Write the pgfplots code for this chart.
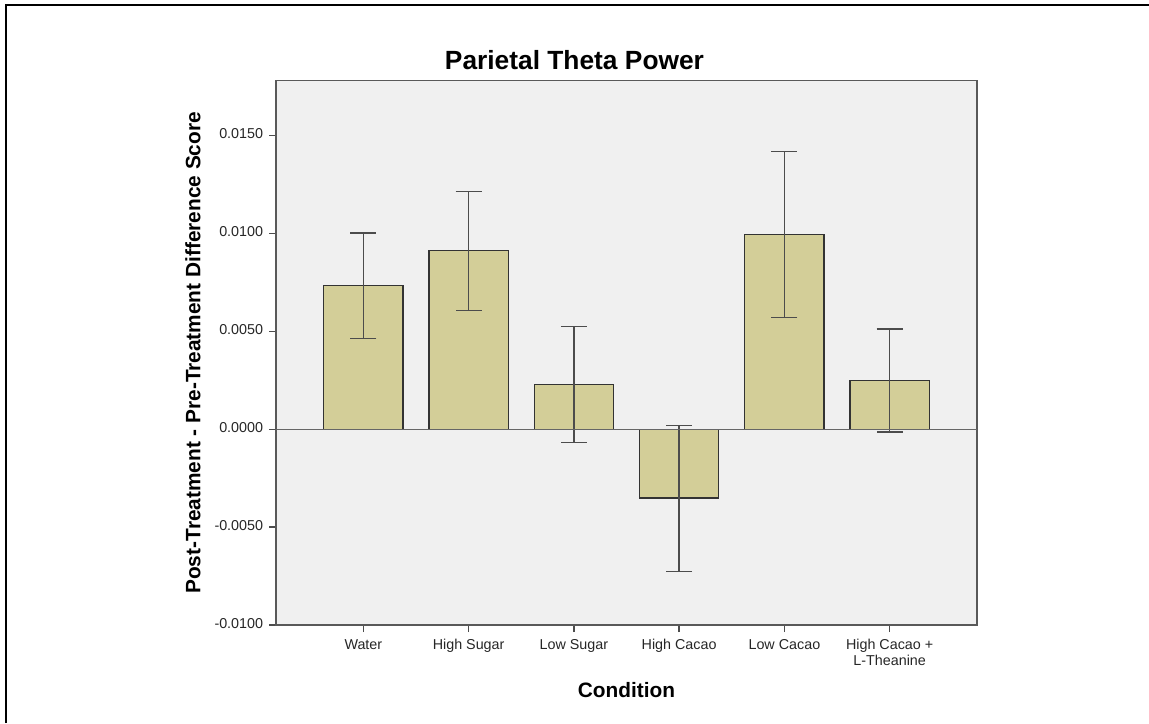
\documentclass[border=0pt]{standalone}
\usepackage{fontspec}
\setmainfont{Liberation Sans}
\usepackage{pgfplots}
\pgfplotsset{compat=1.18}
\definecolor{plotbg}{HTML}{F0F0F0}
\definecolor{barfill}{HTML}{D3CE98}
\begin{document}
\begin{tikzpicture}
% page = 1149x723 px at 0.6pt per px
\path[use as bounding box] (0,0) rectangle (689.4pt,433.8pt);
\draw[line width=1.2pt] (3.6pt,0) -- (3.6pt,430.8pt) -- (689.4pt,430.8pt);
\begin{axis}[
    at={(165.6pt,58.8pt)}, anchor=south west,
    scale only axis,
    width=420.6pt, height=326.6pt,
    ybar, bar width=47.6pt,
    xmin=-0.83, xmax=5.83,
    ymin=-0.01, ymax=0.0178,
    axis background/.style={fill=plotbg},
    axis line style={draw=black!65, line width=0.8pt},
    xtick={0,1,2,3,4,5},
    xticklabels={Water,High Sugar,Low Sugar,High Cacao,Low Cacao,{High Cacao +\\L-Theanine}},
    ytick={-0.01,-0.005,0,0.005,0.01,0.015},
    scaled y ticks=false,
    yticklabel style={/pgf/number format/.cd, fixed, fixed zerofill, precision=4, assume math mode=true},
    tick align=outside, major tick length=4.2pt,
    tick style={draw=black!70, line width=0.8pt},
    xtick pos=bottom, ytick pos=left,
    tick label style={font=\fontsize{8.6}{9.8}\selectfont, text=black!85},
    xticklabel style={align=center, anchor=north, text depth=0pt},
    typeset ticklabels with strut,
    xlabel={Condition},
    ylabel={Post-Treatment - Pre-Treatment Difference Score},
    label style={font=\fontsize{12.5}{14}\selectfont\bfseries},
    xlabel style={at={([yshift=-39pt]rel axis cs:0.5,0)}, anchor=center},
    ylabel style={at={([xshift=-49.8pt]rel axis cs:0,0.5)}, anchor=center},
    title={Parietal Theta Power},
    title style={at={([yshift=6.6pt]rel axis cs:0.4258,1)}, anchor=center,
        font=\fontsize{15.8}{18}\selectfont\bfseries},
    clip=false,
]
\addplot[fill=barfill, draw=black!80, line width=0.7pt,
    error bars/.cd, y dir=both, y explicit,
    error bar style={draw=black!70, line width=0.8pt},
    error mark options={rotate=90, mark size=7.8pt, draw=black!70, line width=0.8pt}]
coordinates {
    (0, 0.00735) += (0,0.00267) -= (0,0.00271)
    (1, 0.00912) += (0,0.00301) -= (0,0.00305)
    (2, 0.00228) += (0,0.00296) -= (0,0.00296)
    (3,-0.00351) += (0,0.00371) -= (0,0.00377)
    (4, 0.00993) += (0,0.00425) -= (0,0.00423)
    (5, 0.00250) += (0,0.00262) -= (0,0.00264)
};
\draw[black!60, line width=0.7pt] (axis cs:-0.83,0) -- (axis cs:5.83,0);
\end{axis}
\end{tikzpicture}
\end{document}
